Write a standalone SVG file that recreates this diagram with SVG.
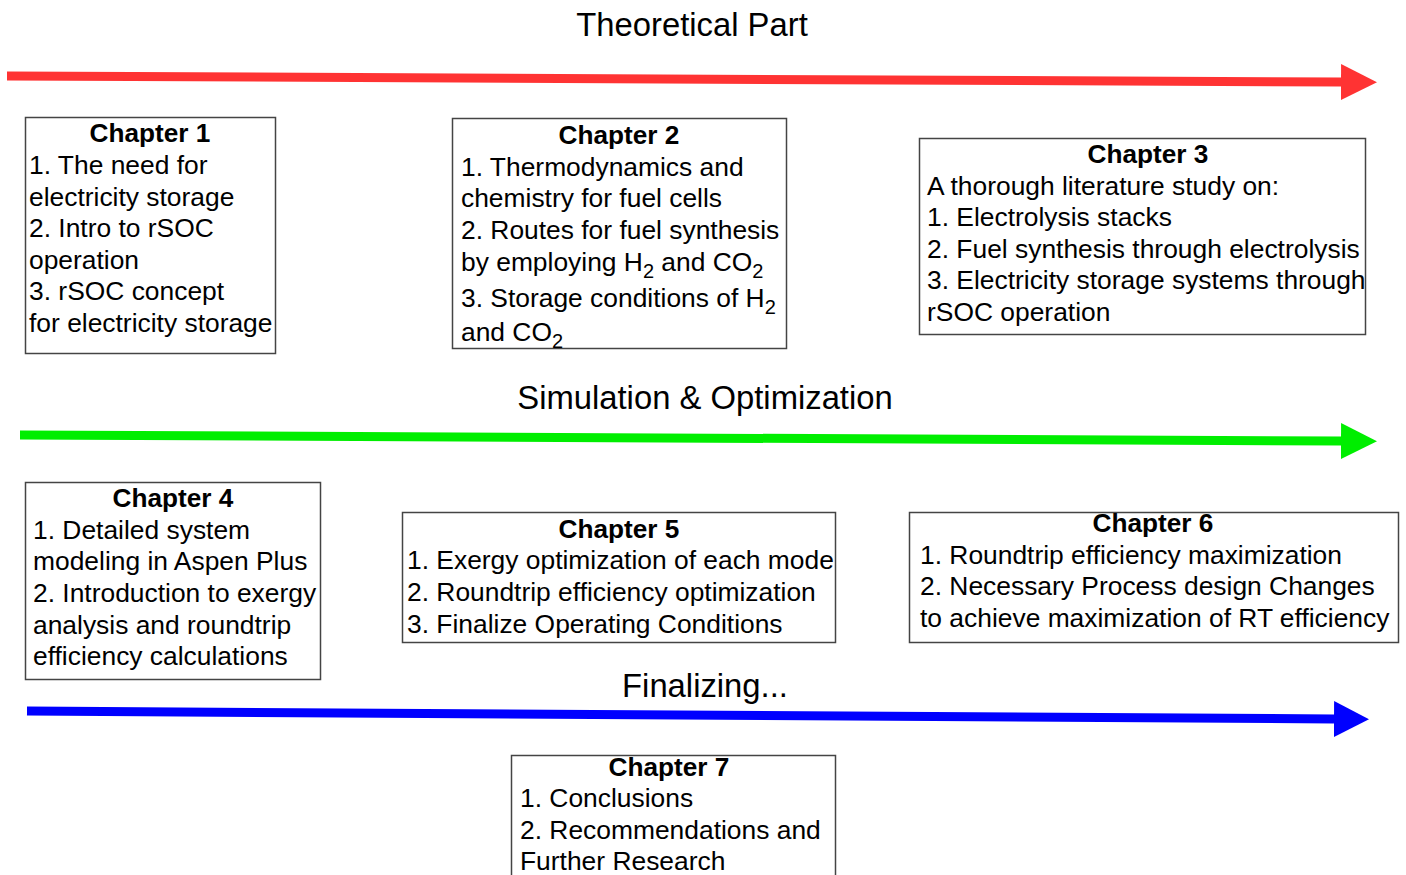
<svg xmlns="http://www.w3.org/2000/svg" width="1406" height="875" viewBox="0 0 1406 875">
<style>
text{font-family:"Liberation Sans",Arial,sans-serif;fill:#000;}
.t{font-size:26.4px;}
.h{font-size:26.2px;font-weight:bold;text-anchor:middle;}
.title{font-size:32.8px;text-anchor:middle;}
.box{fill:#fff;stroke:#444;stroke-width:1.5;}
.sub{font-size:20px;}
</style>
<defs>
<marker id="hr" markerUnits="userSpaceOnUse" markerWidth="40" markerHeight="40" refX="0" refY="18" orient="auto"><path d="M0,0 L36,18 L0,36 z" fill="#ff3333"/></marker>
<marker id="hg" markerUnits="userSpaceOnUse" markerWidth="40" markerHeight="40" refX="0" refY="18" orient="auto"><path d="M0,0 L36,18 L0,36 z" fill="#00ee00"/></marker>
<marker id="hb" markerUnits="userSpaceOnUse" markerWidth="40" markerHeight="40" refX="0" refY="18" orient="auto"><path d="M0,0 L35,18 L0,36 z" fill="#0000ff"/></marker>
</defs>
<rect width="1406" height="875" fill="#fff"/>
<g id="titles">
<text class="title" x="692" y="36">Theoretical Part</text>
<text class="title" x="705" y="409">Simulation &amp; Optimization</text>
<text class="title" x="705" y="697">Finalizing...</text>
</g>
<g id="connectors">
<line x1="7" y1="76" x2="1341" y2="82" stroke="#ff3333" stroke-width="9" marker-end="url(#hr)"/>
<line x1="20" y1="435" x2="1341" y2="441" stroke="#00ee00" stroke-width="9" marker-end="url(#hg)"/>
<line x1="27" y1="711" x2="1334" y2="719" stroke="#0000ff" stroke-width="9" marker-end="url(#hb)"/>
</g>
<g id="ch1">
<rect class="box" x="25.5" y="117.5" width="250" height="236"/>
<text class="h" x="150" y="142">Chapter 1</text>
<text class="t" x="29" y="174">1. The need for</text>
<text class="t" x="29" y="206">electricity storage</text>
<text class="t" x="29" y="237">2. Intro to rSOC</text>
<text class="t" x="29" y="269">operation</text>
<text class="t" x="29" y="300">3. rSOC concept</text>
<text class="t" x="29" y="332">for electricity storage</text>
</g>
<g id="ch2">
<rect class="box" x="452.5" y="118.5" width="334" height="230"/>
<text class="h" x="619" y="144">Chapter 2</text>
<text class="t" x="461" y="176">1. Thermodynamics and</text>
<text class="t" x="461" y="207">chemistry for fuel cells</text>
<text class="t" x="461" y="239">2. Routes for fuel synthesis</text>
<text class="t" x="461" y="271">by employing H<tspan class="sub" dy="7">2</tspan><tspan dy="-7"> and CO</tspan><tspan class="sub" dy="7">2</tspan></text>
<text class="t" x="461" y="307">3. Storage conditions of H<tspan class="sub" dy="7">2</tspan></text>
<text class="t" x="461" y="341">and CO<tspan class="sub" dy="7">2</tspan></text>
</g>
<g id="ch3">
<rect class="box" x="919.5" y="138.5" width="446" height="196"/>
<text class="h" x="1148" y="163">Chapter 3</text>
<text class="t" x="927" y="195">A thorough literature study on:</text>
<text class="t" x="927" y="226">1. Electrolysis stacks</text>
<text class="t" x="927" y="258">2. Fuel synthesis through electrolysis</text>
<text class="t" x="927" y="289">3. Electricity storage systems through</text>
<text class="t" x="927" y="321">rSOC operation</text>
</g>
<g id="ch4">
<rect class="box" x="25.5" y="482.5" width="295" height="197"/>
<text class="h" x="173" y="507">Chapter 4</text>
<text class="t" x="33" y="539">1. Detailed system</text>
<text class="t" x="33" y="570">modeling in Aspen Plus</text>
<text class="t" x="33" y="602">2. Introduction to exergy</text>
<text class="t" x="33" y="634">analysis and roundtrip</text>
<text class="t" x="33" y="665">efficiency calculations</text>
</g>
<g id="ch5">
<rect class="box" x="402.5" y="512.5" width="433" height="130"/>
<text class="h" x="619" y="538">Chapter 5</text>
<text class="t" x="407" y="569">1. Exergy optimization of each mode</text>
<text class="t" x="407" y="601">2. Roundtrip efficiency optimization</text>
<text class="t" x="407" y="633">3. Finalize Operating Conditions</text>
</g>
<g id="ch6">
<rect class="box" x="909.5" y="512.5" width="489" height="130"/>
<text class="h" x="1153" y="532">Chapter 6</text>
<text class="t" x="920" y="564">1. Roundtrip efficiency maximization</text>
<text class="t" x="920" y="595">2. Necessary Process design Changes</text>
<text class="t" x="920" y="627">to achieve maximization of RT efficiency</text>
</g>
<g id="ch7">
<rect class="box" x="511.5" y="755.5" width="324" height="130"/>
<text class="h" x="669" y="776">Chapter 7</text>
<text class="t" x="520" y="807">1. Conclusions</text>
<text class="t" x="520" y="839">2. Recommendations and</text>
<text class="t" x="520" y="870">Further Research</text>
</g>
</svg>
